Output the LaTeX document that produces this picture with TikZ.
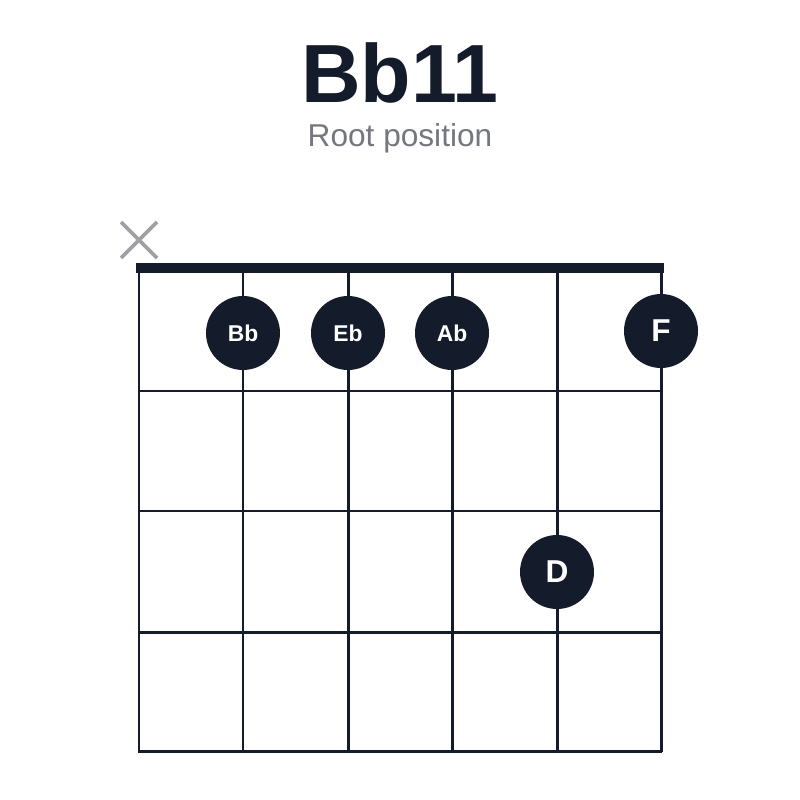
\documentclass[tikz,border=0pt]{standalone}
\usepackage{fontspec}
\setmainfont{Liberation Sans}
\definecolor{ink}{HTML}{141B2B}
\definecolor{gr}{HTML}{75777F}
\begin{document}
\begin{tikzpicture}[x=0.02cm,y=-0.02cm,
  str/.style={line width=1.7pt,ink},
  dot/.style={circle,fill=ink,minimum size=74*0.02cm,inner sep=0pt,text=white,font=\fontsize{13}{13}\selectfont\bfseries},
  big/.style={dot,font=\fontsize{18}{18}\selectfont\bfseries}]
\useasboundingbox (0,0) rectangle (800,800);
\node[anchor=base] (title) at (400,103) {\fontsize{47}{47}\selectfont\bfseries\color{ink}Bb11};
\node[anchor=base] (sub) at (400,147) {\fontsize{18}{18}\selectfont\color{gr}Root position};
\foreach \x in {139,243,348,452,557,661} \draw[str] (\x,268) -- (\x,752);
\foreach \y in {391,511,632,751} \draw[str] (138,\y) -- (662,\y);
\draw[ink,line width=5.8pt] (136,268) -- (664,268);
\draw[gr!70,line width=2.2pt] (121,222) -- (157,258) (121,258) -- (157,222);
\node[dot] (bb) at (243,333) {Bb};
\node[dot] (eb) at (348,333) {Eb};
\node[dot] (ab) at (452,333) {Ab};
\node[big] (f) at (661,331) {F};
\node[big] (d) at (557,572) {D};
\end{tikzpicture}
\end{document}
